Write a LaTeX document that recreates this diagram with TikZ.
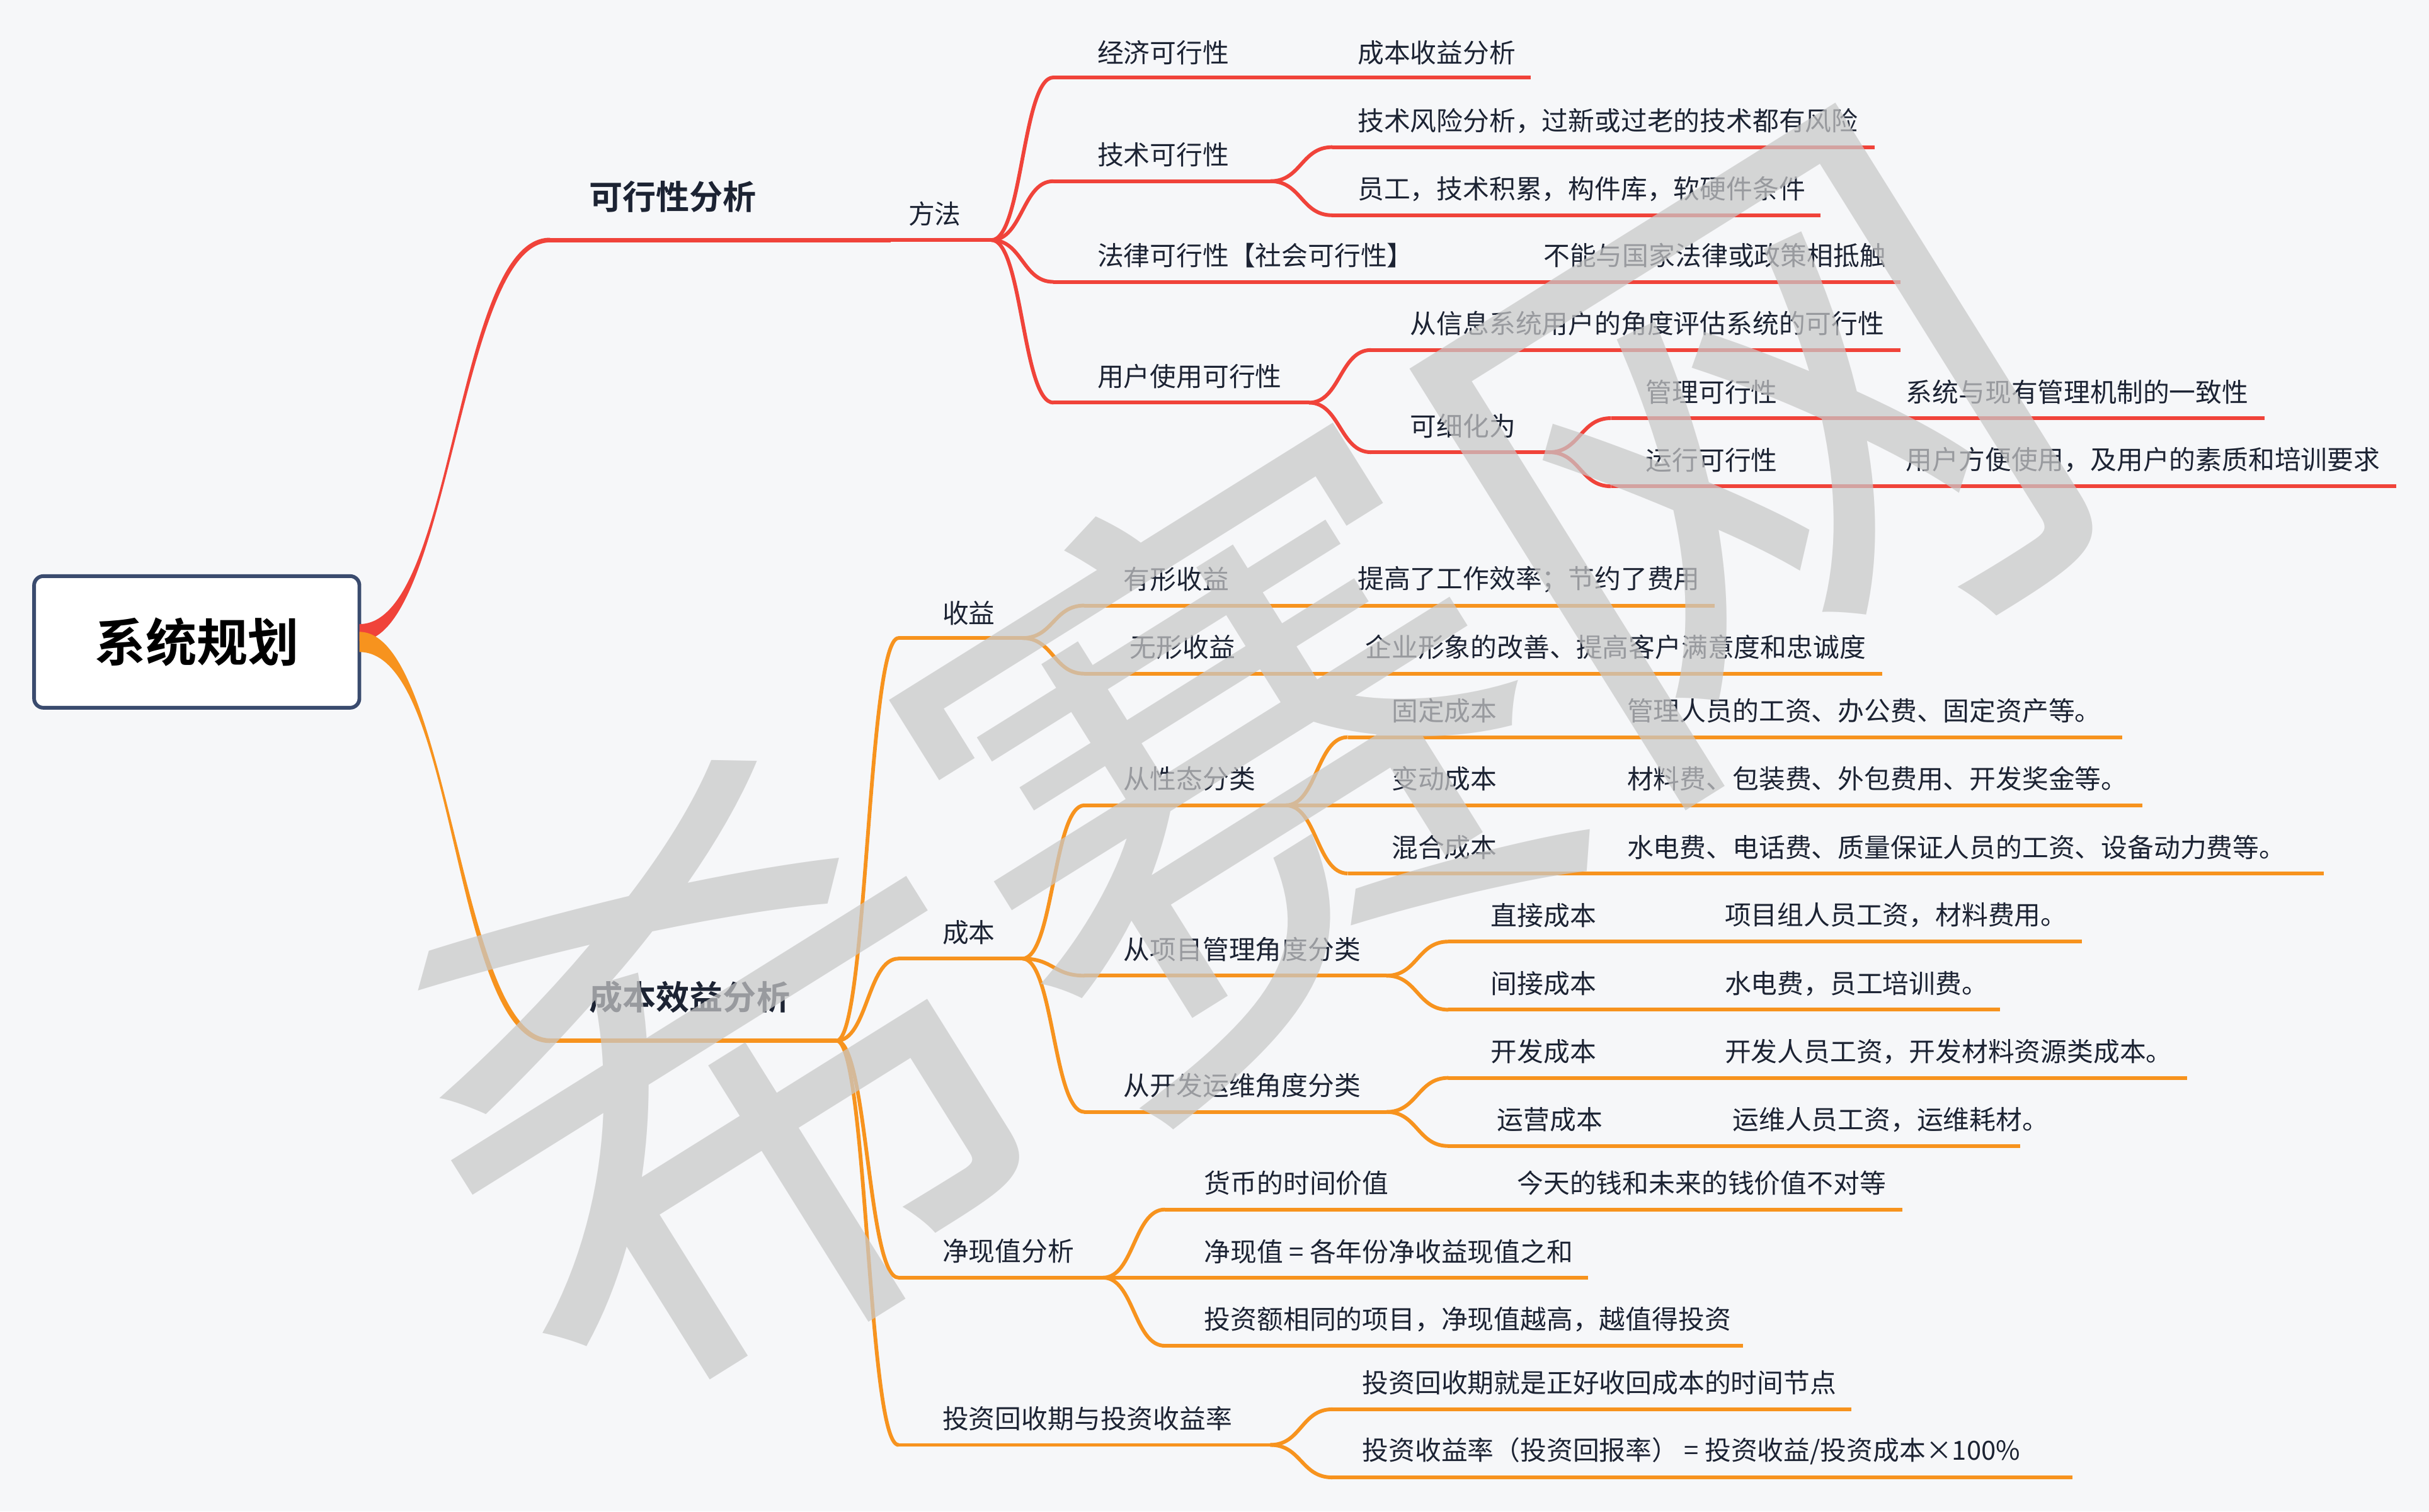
\documentclass[tikz,border=0pt]{standalone}
\usepackage{fontspec}
\setmainfont{Noto Sans CJK SC}[BoldFont={Noto Sans CJK SC Bold}]
\definecolor{bgc}{HTML}{F6F7F9}
\definecolor{redc}{HTML}{F0433A}
\definecolor{orgc}{HTML}{F7931E}
\definecolor{navy}{HTML}{3A4B6E}
\definecolor{txt}{HTML}{1C2333}
\definecolor{wmc}{HTML}{C8C8C8}
\tikzset{
  lbl/.style={anchor=west, inner sep=0pt, text=txt, font=\fontsize{8.5}{10}\selectfont},
  mainlbl/.style={anchor=west, inner sep=0pt, text=txt, font=\fontsize{10.8}{12}\selectfont\bfseries},
  rl/.style={draw=redc, line width=1.2pt},
  ol/.style={draw=orgc, line width=1.2pt},
  curv/.style={to path={.. controls +(20,0) and +(-20,0) .. (\tikztotarget)}},
}
\begin{document}
\begin{tikzpicture}[x=0.5pt, y=-0.5pt]
  \fill[bgc] (0,0) rectangle (1568,976);
  \useasboundingbox (0,0) rectangle (1568,976);

  % root
  \node[draw=navy, line width=1.2pt, fill=white, rounded corners=3pt,
        minimum width=105pt, minimum height=42.5pt,
        font=\fontsize{16.5}{18}\selectfont\bfseries] (root) at (127,414.5) {系统规划};

  % main branches
  \fill[redc] (232,403) .. controls +(62,0) and +(-62,0) .. (355,153.5)
    -- (355,156.5) .. controls +(-58,0) and +(58,0) .. (232,414) -- cycle;
  \fill[orgc] (232,408) .. controls +(58,0) and +(-58,0) .. (355,670.5)
    -- (355,673.5) .. controls +(-64,0) and +(64,0) .. (232,421) -- cycle;
  \coordinate (kx) at (355,155); \coordinate (kx-e) at (575,155);
  \coordinate (cb) at (355,672); \coordinate (cb-e) at (540,672);
  \draw[redc, line width=1.5pt] (kx) -- (kx-e);
  \draw[orgc, line width=1.5pt] (cb) -- (cb-e);

  % red underlines
  \foreach \n/\a/\b/\y in {ff/575/640/155, jj/680/860/50, jj2/860/988/50,
      js/680/820/117, js1/860/1210/95, js2/860/1175/139,
      fl/680/980/182, fl2/980/1227/182,
      yh/680/845/260, yh1/885/1227/226, yh2/885/1000/292,
      gl/1040/1215/270, gl2/1215/1462/270, yx/1040/1215/314, yx2/1215/1547/314}
    {\coordinate (\n) at (\a,\y); \coordinate (\n-e) at (\b,\y);
     \draw[rl] (\n) -- (\n-e);}

  % orange underlines
  \foreach \n/\a/\b/\y in {sy/580/660/412, ys/700/862/391, ys2/862/1107/391,
      ws/700/866/435, ws2/866/1215/435,
      cbn/580/660/619, xt/700/830/520,
      gd/870/1035/476, gd2/1035/1370/476, bd/870/1035/520, bd2/1035/1383/520,
      hh/870/1035/564, hh2/1035/1500/564,
      xm/700/895/630, zj/935/1098/608, zj2/1098/1344/608, jc/935/1098/652, jc2/1098/1291/652,
      kf/700/895/718, kc/935/1098/696, kc2/1098/1412/696, yy/935/1103/740, yy2/1103/1304/740,
      jx/580/712/825, hb/752/964/781, hb2/964/1228/781, jz/752/1025/825, tz/752/1125/869,
      hs/580/820/933, hs1/860/1195/910, hs2/860/1338/954}
    {\coordinate (\n) at (\a,\y); \coordinate (\n-e) at (\b,\y);
     \draw[ol] (\n) -- (\n-e);}

  % connectors
  \foreach \p/\c in {ff/jj, ff/js, ff/fl, ff/yh, js/js1, js/js2, yh/yh1, yh/yh2, yh2/gl, yh2/yx}
    \draw[rl] (\p-e) to[curv] (\c);
  \foreach \p/\c in {cb/sy, cb/cbn, cb/jx, cb/hs, sy/ys, sy/ws, cbn/xt, cbn/xm, cbn/kf,
      xt/gd, xt/bd, xt/hh, xm/zj, xm/jc, kf/kc, kf/yy, jx/hb, jx/jz, jx/tz, hs/hs1, hs/hs2}
    \draw[ol] (\p-e) to[curv] (\c);

  % labels
  \node[mainlbl] (kxT) at (380,127) {可行性分析};
  \node[lbl] (ffT) at (586,138) {方法};
  \node[lbl] (jjT) at (708,34) {经济可行性};
  \node[lbl] (jj2T) at (876,34) {成本收益分析};
  \node[lbl] (jsT) at (708,100) {技术可行性};
  \node[lbl] (js1T) at (876,78) {技术风险分析，过新或过老的技术都有风险};
  \node[lbl] (js2T) at (876,122) {员工，技术积累，构件库，软硬件条件};
  \node[lbl] (flT) at (708,165) {法律可行性【社会可行性】};
  \node[lbl] (fl2T) at (996,165) {不能与国家法律或政策相抵触};
  \node[lbl] (yhT) at (708,243) {用户使用可行性};
  \node[lbl] (yh1T) at (910,209) {从信息系统用户的角度评估系统的可行性};
  \node[lbl] (yh2T) at (910,275) {可细化为};
  \node[lbl] (glT) at (1062,253) {管理可行性};
  \node[lbl] (gl2T) at (1230,253) {系统与现有管理机制的一致性};
  \node[lbl] (yxT) at (1062,297) {运行可行性};
  \node[lbl] (yx2T) at (1230,297) {用户方便使用，及用户的素质和培训要求};

  \node[mainlbl] (cbT) at (380,644) {成本效益分析};
  \node[lbl] (syT) at (608,396) {收益};
  \node[lbl] (ysT) at (725,374) {有形收益};
  \node[lbl] (ys2T) at (876,374) {提高了工作效率；节约了费用};
  \node[lbl] (wsT) at (729,418) {无形收益};
  \node[lbl] (ws2T) at (881,418) {企业形象的改善、提高客户满意度和忠诚度};
  \node[lbl] (cbnT) at (608,602) {成本};
  \node[lbl] (xtT) at (725,503) {从性态分类};
  \node[lbl] (gdT) at (898,459) {固定成本};
  \node[lbl] (gd2T) at (1050,459) {管理人员的工资、办公费、固定资产等。};
  \node[lbl] (bdT) at (898,503) {变动成本};
  \node[lbl] (bd2T) at (1050,503) {材料费、包装费、外包费用、开发奖金等。};
  \node[lbl] (hhT) at (898,547) {混合成本};
  \node[lbl] (hh2T) at (1050,547) {水电费、电话费、质量保证人员的工资、设备动力费等。};
  \node[lbl] (xmT) at (725,613) {从项目管理角度分类};
  \node[lbl] (zjT) at (962,591) {直接成本};
  \node[lbl] (zj2T) at (1113,591) {项目组人员工资，材料费用。};
  \node[lbl] (jcT) at (962,635) {间接成本};
  \node[lbl] (jc2T) at (1113,635) {水电费，员工培训费。};
  \node[lbl] (kfT) at (725,701) {从开发运维角度分类};
  \node[lbl] (kcT) at (962,679) {开发成本};
  \node[lbl] (kc2T) at (1113,679) {开发人员工资，开发材料资源类成本。};
  \node[lbl] (yyT) at (966,723) {运营成本};
  \node[lbl] (yy2T) at (1118,723) {运维人员工资，运维耗材。};
  \node[lbl] (jxT) at (608,808) {净现值分析};
  \node[lbl] (hbT) at (777,764) {货币的时间价值};
  \node[lbl] (hb2T) at (979,764) {今天的钱和未来的钱价值不对等};
  \node[lbl] (jzT) at (777,808) {净现值 = 各年份净收益现值之和};
  \node[lbl] (tzT) at (777,852) {投资额相同的项目，净现值越高，越值得投资};
  \node[lbl] (hsT) at (608,916) {投资回收期与投资收益率};
  \node[lbl] (hs1T) at (879,893) {投资回收期就是正好收回成本的时间节点};
  \node[lbl] (hs2T) at (879,937) {投资收益率（投资回报率） = 投资收益/投资成本×100\%};

  % watermark
  \node[rotate=32, text=wmc, text opacity=0.72, inner sep=0pt,
        font=\fontsize{196}{196}\selectfont] (wm) at (797,492) {希赛网};
\end{tikzpicture}
\end{document}
